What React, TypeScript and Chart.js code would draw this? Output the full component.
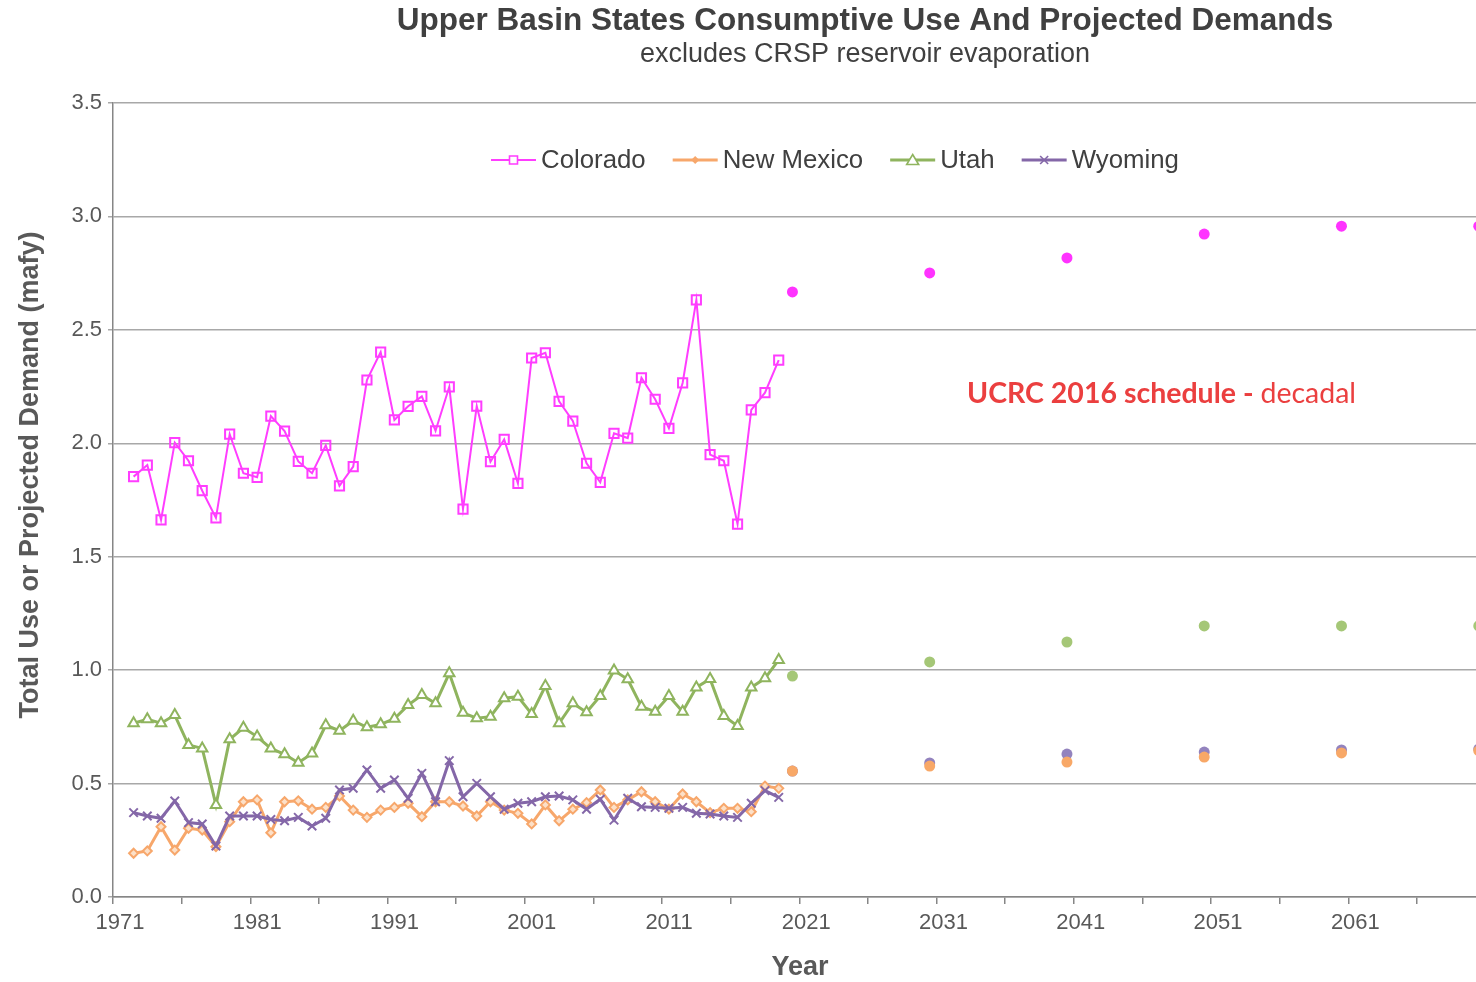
import React, { useEffect, useRef } from 'react';
import { Chart, registerables } from 'chart.js';

Chart.register(...registerables);

const TITLE = 'Upper Basin States Consumptive Use And Projected Demands';
const SUBTITLE = 'excludes CRSP reservoir evaporation';
const Y_TITLE = 'Total Use or Projected Demand (mafy)';
const X_TITLE = 'Year';
const NOTE_BOLD = 'UCRC 2016 schedule - ';
const NOTE_NORMAL = 'decadal';

const historyYears = [
  1972, 1973, 1974, 1975, 1976, 1977, 1978, 1979, 1980, 1981,
  1982, 1983, 1984, 1985, 1986, 1987, 1988, 1989, 1990, 1991,
  1992, 1993, 1994, 1995, 1996, 1997, 1998, 1999, 2000, 2001,
  2002, 2003, 2004, 2005, 2006, 2007, 2008, 2009, 2010, 2011,
  2012, 2013, 2014, 2015, 2016, 2017, 2018, 2019,
];

const coloradoUse = [
  1.853, 1.904, 1.662, 2.003, 1.923, 1.791, 1.671, 2.040, 1.868, 1.850,
  2.120, 2.054, 1.920, 1.868, 1.991, 1.812, 1.897, 2.279, 2.402, 2.103,
  2.163, 2.207, 2.055, 2.249, 1.710, 2.164, 1.919, 2.017, 1.823, 2.376,
  2.399, 2.185, 2.098, 1.912, 1.828, 2.044, 2.023, 2.289, 2.194, 2.066,
  2.266, 2.632, 1.950, 1.923, 1.644, 2.147, 2.223, 2.367,
];

const newMexicoUse = [
  0.193, 0.203, 0.310, 0.207, 0.303, 0.295, 0.222, 0.332, 0.420, 0.428,
  0.283, 0.420, 0.424, 0.387, 0.395, 0.445, 0.383, 0.351, 0.383, 0.395,
  0.413, 0.354, 0.420, 0.420, 0.401, 0.357, 0.420, 0.383, 0.369, 0.322,
  0.406, 0.336, 0.387, 0.416, 0.472, 0.395, 0.428, 0.464, 0.420, 0.387,
  0.454, 0.420, 0.372, 0.391, 0.391, 0.376, 0.489, 0.479,
];

const utahUse = [
  0.766, 0.783, 0.766, 0.802, 0.670, 0.655, 0.406, 0.695, 0.746, 0.707,
  0.655, 0.629, 0.592, 0.633, 0.757, 0.733, 0.777, 0.748, 0.761, 0.786,
  0.846, 0.890, 0.854, 0.986, 0.812, 0.788, 0.795, 0.876, 0.883, 0.807,
  0.930, 0.766, 0.854, 0.814, 0.886, 0.998, 0.960, 0.839, 0.817, 0.886,
  0.817, 0.924, 0.961, 0.798, 0.754, 0.924, 0.964, 1.045,
];

const wyomingUse = [
  0.372, 0.357, 0.347, 0.423, 0.328, 0.322, 0.225, 0.357, 0.357, 0.357,
  0.342, 0.336, 0.351, 0.313, 0.347, 0.472, 0.479, 0.560, 0.479, 0.516,
  0.435, 0.545, 0.420, 0.601, 0.442, 0.501, 0.442, 0.387, 0.413, 0.420,
  0.442, 0.445, 0.428, 0.387, 0.431, 0.339, 0.435, 0.398, 0.395, 0.391,
  0.395, 0.369, 0.366, 0.357, 0.351, 0.413, 0.469, 0.439,
];

const projectionYears = [2020, 2030, 2040, 2050, 2060, 2070];
const coloradoDemand = [2.667, 2.751, 2.817, 2.922, 2.957, 2.957];
const newMexicoDemand = [0.555, 0.577, 0.595, 0.617, 0.635, 0.645];
const utahDemand = [0.974, 1.036, 1.124, 1.195, 1.195, 1.195];
const wyomingDemand = [0.555, 0.591, 0.630, 0.639, 0.648, 0.652];

const xTickYears = [
  1971, 1976, 1981, 1986, 1991, 1996, 2001, 2006, 2011, 2016,
  2021, 2026, 2031, 2036, 2041, 2046, 2051, 2056, 2061, 2066,
];
const xLabelYears = [1971, 1981, 1991, 2001, 2011, 2021, 2031, 2041, 2051, 2061];
const yTicks = [0, 0.5, 1.0, 1.5, 2.0, 2.5, 3.0, 3.5];

const X_MIN = 1971;
const X_MAX = 2070.3;

const C_CO = '#FF3DFF';
const C_NM = '#F7A76B';
const C_UT = '#8FB45E';
const C_WY = '#8467A8';

const FONT = '"Liberation Sans", Arial, sans-serif';

// Each year occupies [year, year + 1) on the date axis; marks sit in the middle of their year.
const toPoints = (years: number[], vals: number[]) =>
  years.map((yr, i) => ({ x: yr + 0.5, y: vals[i] }));

const legendItems = [
  { label: 'Colorado', color: C_CO, style: 'rect', lw: 2 },
  { label: 'New Mexico', color: C_NM, style: 'diamond', lw: 3 },
  { label: 'Utah', color: C_UT, style: 'triangle', lw: 3 },
  { label: 'Wyoming', color: C_WY, style: 'cross', lw: 3 },
];

function drawMarker(ctx: CanvasRenderingContext2D, style: string, x: number, y: number, color: string) {
  ctx.save();
  ctx.strokeStyle = color;
  ctx.lineWidth = 1.6;
  ctx.beginPath();
  if (style === 'rect') {
    ctx.fillStyle = '#ffffff';
    ctx.rect(x - 4, y - 4, 8, 8);
    ctx.fill();
    ctx.stroke();
  } else if (style === 'diamond') {
    ctx.fillStyle = color;
    ctx.moveTo(x, y - 4);
    ctx.lineTo(x + 4, y);
    ctx.lineTo(x, y + 4);
    ctx.lineTo(x - 4, y);
    ctx.closePath();
    ctx.fill();
  } else if (style === 'triangle') {
    ctx.fillStyle = '#ffffff';
    ctx.moveTo(x, y - 5.5);
    ctx.lineTo(x + 6, y + 4.5);
    ctx.lineTo(x - 6, y + 4.5);
    ctx.closePath();
    ctx.fill();
    ctx.stroke();
  } else {
    ctx.moveTo(x - 4, y - 4);
    ctx.lineTo(x + 4, y + 4);
    ctx.moveTo(x + 4, y - 4);
    ctx.lineTo(x - 4, y + 4);
    ctx.stroke();
  }
  ctx.restore();
}

const textPlugin = {
  id: 'chartTexts',
  afterDraw(chart: any) {
    const ctx: CanvasRenderingContext2D = chart.ctx;
    ctx.save();
    ctx.textBaseline = 'middle';
    ctx.textAlign = 'center';
    ctx.fillStyle = '#404040';
    ctx.font = `bold 31.5px ${FONT}`;
    ctx.fillText(TITLE, 865, 21);
    ctx.font = `27px ${FONT}`;
    ctx.fillText(SUBTITLE, 865, 55);

    ctx.fillStyle = '#595959';
    ctx.font = `bold 27px ${FONT}`;
    ctx.fillText(X_TITLE, 800, 968);
    ctx.save();
    ctx.translate(31, 475);
    ctx.rotate(-Math.PI / 2);
    ctx.fillText(Y_TITLE, 0, 0);
    ctx.restore();

    // legend
    ctx.font = `25.8px ${FONT}`;
    ctx.textAlign = 'left';
    let x = 491;
    const ly = 160;
    legendItems.forEach((it) => {
      ctx.save();
      ctx.strokeStyle = it.color;
      ctx.lineWidth = it.lw;
      ctx.beginPath();
      ctx.moveTo(x, ly);
      ctx.lineTo(x + 45, ly);
      ctx.stroke();
      ctx.restore();
      drawMarker(ctx, it.style, x + 22.5, ly, it.color);
      ctx.fillStyle = '#404040';
      ctx.fillText(it.label, x + 50, ly + 1);
      x += 50 + ctx.measureText(it.label).width + 27;
    });

    // annotation
    ctx.fillStyle = '#EB3F3F';
    ctx.font = `bold 28.5px Lato, "Open Sans", sans-serif`;
    ctx.fillText(NOTE_BOLD, 967, 394);
    const w = ctx.measureText(NOTE_BOLD).width;
    ctx.font = `28.5px Lato, "Open Sans", sans-serif`;
    ctx.fillText(NOTE_NORMAL, 967 + w, 394);
    ctx.restore();
  },
};

export default function App() {
  const ref = useRef<HTMLCanvasElement | null>(null);

  useEffect(() => {
    if (!ref.current) return;
    const lineCommon = { tension: 0, fill: false, clip: false as any };
    const projCommon = {
      showLine: false,
      pointStyle: 'circle',
      pointRadius: 5.5,
      pointBorderWidth: 0,
      clip: false as any,
    };
    const chart = new Chart(ref.current, {
      type: 'line',
      data: {
        datasets: [
          {
            label: 'Wyoming',
            data: toPoints(historyYears, wyomingUse),
            borderColor: C_WY,
            borderWidth: 3,
            pointStyle: 'crossRot',
            pointRadius: 6,
            pointBorderWidth: 2,
            pointBorderColor: C_WY,
            pointBackgroundColor: C_WY,
            order: 1,
            ...lineCommon,
          },
          {
            label: 'Utah',
            data: toPoints(historyYears, utahUse),
            borderColor: C_UT,
            borderWidth: 3,
            pointStyle: 'triangle',
            pointRadius: 6,
            pointBorderWidth: 2,
            pointBorderColor: C_UT,
            pointBackgroundColor: '#ffffff',
            order: 2,
            ...lineCommon,
          },
          {
            label: 'New Mexico',
            data: toPoints(historyYears, newMexicoUse),
            borderColor: C_NM,
            borderWidth: 3,
            pointStyle: 'rectRot',
            pointRadius: 4.5,
            pointBorderWidth: 2,
            pointBorderColor: C_NM,
            pointBackgroundColor: '#FCE0C8',
            order: 3,
            ...lineCommon,
          },
          {
            label: 'Colorado',
            data: toPoints(historyYears, coloradoUse),
            borderColor: C_CO,
            borderWidth: 2,
            pointStyle: 'rect',
            pointRadius: 6.5,
            pointBorderWidth: 2,
            pointBorderColor: C_CO,
            pointBackgroundColor: 'rgba(255,255,255,0)',
            order: 4,
            ...lineCommon,
          },
          {
            label: 'Colorado demand',
            data: toPoints(projectionYears, coloradoDemand),
            pointBackgroundColor: '#FF33FF',
            borderColor: '#FF33FF',
            order: 6,
            ...projCommon,
          },
          {
            label: 'Utah demand',
            data: toPoints(projectionYears, utahDemand),
            pointBackgroundColor: '#A5C777',
            borderColor: '#A5C777',
            order: 7,
            ...projCommon,
          },
          {
            label: 'New Mexico demand',
            data: toPoints(projectionYears, newMexicoDemand),
            pointBackgroundColor: '#F8A867',
            borderColor: '#F8A867',
            order: 8,
            ...projCommon,
          },
          {
            label: 'Wyoming demand',
            data: toPoints(projectionYears, wyomingDemand),
            pointBackgroundColor: '#9383BE',
            borderColor: '#9383BE',
            order: 9,
            ...projCommon,
          },
        ] as any,
      },
      options: {
        animation: false,
        responsive: false,
        devicePixelRatio: 1,
        events: [],
        layout: { autoPadding: false, padding: { top: 103, left: 0, right: 0, bottom: 0 } },
        plugins: {
          legend: { display: false },
          tooltip: { enabled: false },
          title: { display: false },
        },
        scales: {
          x: {
            type: 'linear',
            min: X_MIN,
            max: X_MAX,
            afterBuildTicks: (scale: any) => {
              scale.ticks = xTickYears.map((v) => ({ value: v }));
            },
            afterFit: (scale: any) => {
              scale.height = 85;
              scale.paddingLeft = 0;
              scale.paddingRight = 0;
            },
            ticks: {
              autoSkip: false,
              maxRotation: 0,
              minRotation: 0,
              includeBounds: false,
              labelOffset: 7,
              padding: 6,
              color: '#595959',
              font: { family: FONT, size: 22 },
              callback: (v: any) => (xLabelYears.includes(Number(v)) ? String(v) : ''),
            },
            grid: {
              drawOnChartArea: false,
              drawTicks: true,
              tickLength: 7,
              color: '#868686',
              lineWidth: 1.5,
            },
            border: { display: true, color: '#868686', width: 1.5 },
          },
          y: {
            type: 'linear',
            min: 0,
            max: 3.5,
            afterBuildTicks: (scale: any) => {
              scale.ticks = yTicks.map((v) => ({ value: v }));
            },
            afterFit: (scale: any) => {
              scale.width = 113;
            },
            ticks: {
              padding: 6,
              color: '#595959',
              font: { family: FONT, size: 22 },
              callback: (v: any) => Number(v).toFixed(1),
            },
            grid: {
              drawOnChartArea: true,
              drawTicks: true,
              tickLength: 5,
              color: '#A8A8A8',
              lineWidth: 1.5,
            },
            border: { display: true, color: '#868686', width: 1.5 },
          },
        },
      } as any,
      plugins: [textPlugin],
    });
    return () => chart.destroy();
  }, []);

  return (
    <div style={{ position: 'fixed', left: 0, top: 0, width: 1476, height: 982, background: '#ffffff' }}>
      <canvas ref={ref} width={1476} height={982} style={{ display: 'block' }} />
    </div>
  );
}
